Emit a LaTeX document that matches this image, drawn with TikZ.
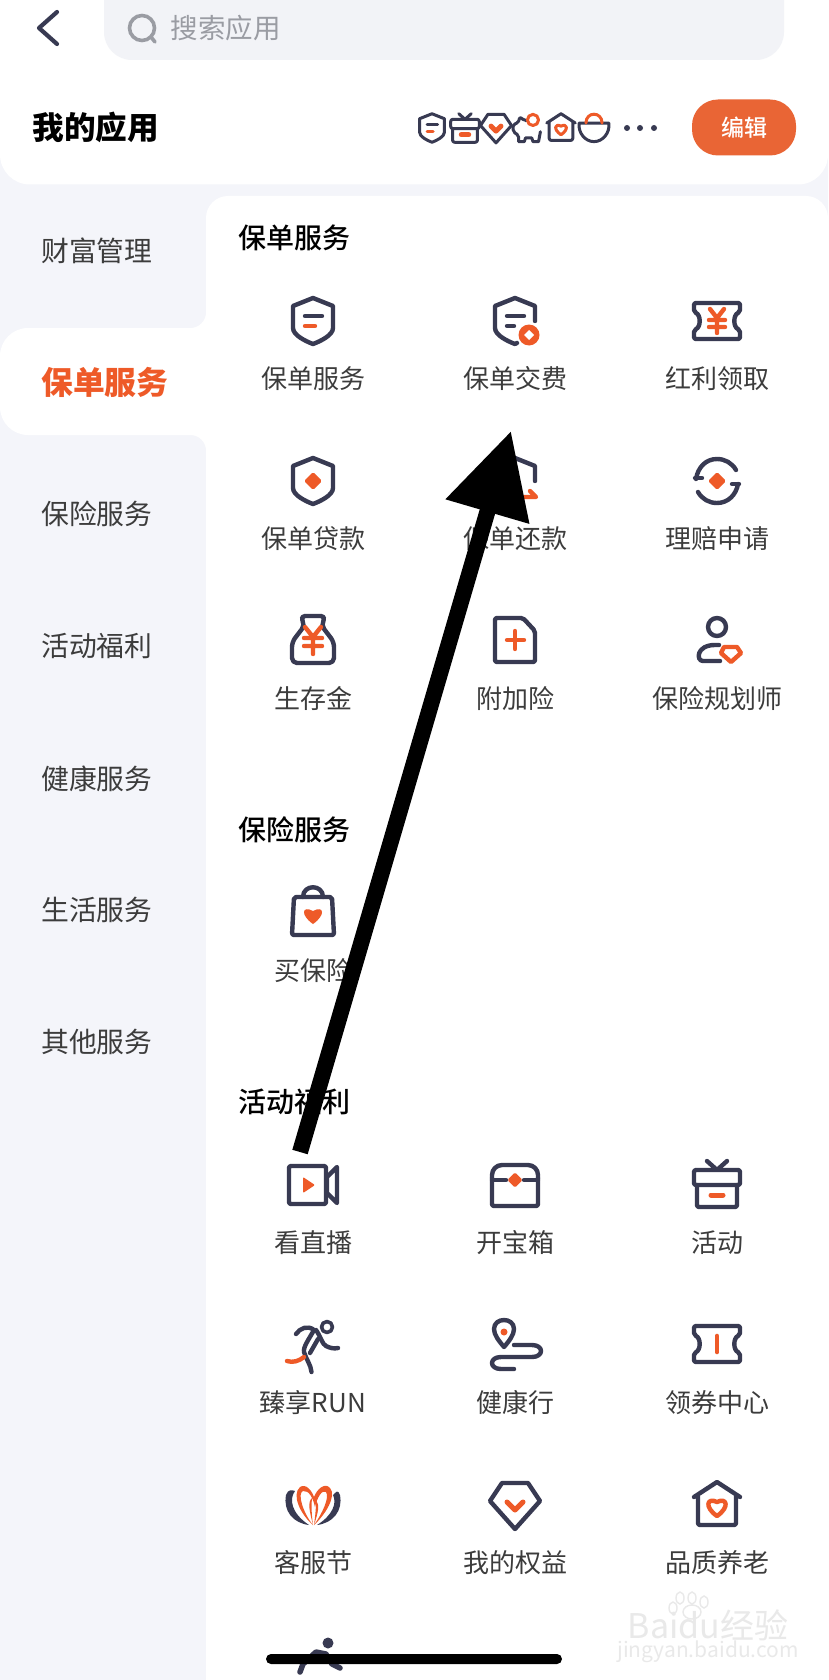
\documentclass[tikz,border=0pt]{standalone}
\usepackage{fontspec}
\setmainfont{Noto Sans CJK SC}
\newfontfamily\mediumfont{Noto Sans CJK SC Medium}
\usetikzlibrary{arrows.meta}
\definecolor{ink}{HTML}{383A52}
\definecolor{accent}{HTML}{EE5A28}
\definecolor{btn}{HTML}{E96535}
\definecolor{panel}{HTML}{F4F5FA}
\definecolor{barfill}{HTML}{F2F3F7}
\definecolor{graytext}{HTML}{9A9CA3}
\definecolor{labeltext}{HTML}{3C3C3C}
\definecolor{wmark}{HTML}{E9E9E9}
\tikzset{
  iconline/.style={draw=ink,line width=4.4pt,line cap=round,line join=round},
  accentline/.style={draw=accent,line width=4.4pt,line cap=round,line join=round},
  applabel/.style={inner sep=0pt,yshift=-1.3pt,text=labeltext,font=\fontsize{26}{30}\selectfont},
  headlabel/.style={inner sep=0pt,anchor=west,text=black,font=\fontsize{28}{32}\selectfont\mediumfont},
  sidelabel/.style={inner sep=0pt,yshift=-1pt,anchor=west,text=labeltext,font=\fontsize{27.8}{32}\selectfont},
}
\newcommand{\accentyen}{
  \draw[accentline] (-8,-13) -- (0,-3) -- (8,-13) (0,-3) -- (0,14) (-9,-2) -- (9,-2) (-9,6) -- (9,6);
}
\newcommand{\accentdiamond}{
  \fill[accent,rounded corners=1.5pt] (-9,0) -- (0,-9) -- (9,0) -- (0,9) -- cycle;
}
\newcommand{\accentheart}{
  \fill[accent] (0,9) .. controls (-13,0) and (-11,-10) .. (0,-4) .. controls (11,-10) and (13,0) .. (0,9) -- cycle;
}
\newcommand{\iconshield}{
  \draw[iconline] (0,-23) -- (20,-15) -- (20,7) .. controls (20,14) and (8,20) .. (0,23) .. controls (-8,20) and (-20,14) .. (-20,7) -- (-20,-15) -- cycle;
}
\newcommand{\iconshieldbars}{
  \iconshield
  \draw[iconline] (-8,-5) -- (9,-5);
  \draw[accentline] (-8,5) -- (2,5);
}
\newcommand{\iconshieldopen}{
  \draw[iconline] (2,22) -- (0,23) .. controls (-8,20) and (-20,14) .. (-20,7) -- (-20,-15) -- (0,-23) -- (20,-15) -- (20,0);
}
\newcommand{\iconpay}{
  \iconshieldopen
  \draw[iconline] (-8,-5) -- (9,-5) (-8,5) -- (-1,5);
  \fill[accent] (14,14) circle (10.5pt);
  \fill[white] (9,14) -- (14,9) -- (19,14) -- (14,19) -- cycle;
}
\newcommand{\iconrepay}{
  \iconshieldopen
  \draw[accentline] (9,16) -- (21,16) -- (15,10);
}
\newcommand{\iconticket}{
  \draw[iconline,rounded corners=2pt] (-23,-18) -- (23,-18) -- (23,-9) .. controls (16,-6) and (16,6) .. (23,9) -- (23,18) -- (-23,18) -- (-23,9) .. controls (-16,6) and (-16,-6) .. (-23,-9) -- cycle;
}
\newcommand{\iconyenticket}{
  \iconticket
  \draw[accentline] (-7,-12) -- (0,-3) -- (7,-12) (0,-3) -- (0,12) (-8,-1) -- (8,-1) (-8,6) -- (8,6);
}
\newcommand{\iconclaim}{
  \draw[iconline] (-21,-2) .. controls (-19,-14) and (-11,-22) .. (0,-22) .. controls (8,-22) and (15,-18) .. (19,-11);
  \draw[iconline] (21,3) .. controls (19,14) and (11,22) .. (0,22) .. controls (-8,22) and (-15,18) .. (-19,11);
  \draw[iconline] (-22,-3) -- (-15,-3) (22,3) -- (15,3);
  \accentdiamond
}
\newcommand{\iconmoneybag}{
  \draw[iconline,rounded corners=5pt] (-8,-15) -- (-13,-24) -- (13,-24) -- (8,-15) -- (21,2) -- (21,23) -- (-21,23) -- (-21,2) -- cycle;
  \accentyen
}
\newcommand{\icondoc}{
  \draw[iconline,rounded corners=2pt] (-20,-22) -- (8,-22) -- (20,-9) -- (20,22) -- (-20,22) -- cycle;
  \draw[accentline] (-8,0) -- (9,0) (0,-9) -- (0,9);
}
\newcommand{\iconplanner}{
  \draw[iconline] (0,-13) circle (9pt);
  \draw[iconline] (3,21) -- (-14,21) .. controls (-21,21) and (-21,5) .. (-2,5) -- (2,5);
  \draw[accentline] (7,7) -- (20,7) -- (24,13) -- (14,22) -- (4,13) -- cycle;
}
\newcommand{\iconbag}{
  \draw[iconline,rounded corners=2pt] (-19,-16) -- (19,-16) -- (21,22) -- (-21,22) -- cycle;
  \draw[iconline] (-10,-16) .. controls (-10,-29) and (10,-29) .. (10,-16);
  \begin{scope}[shift={(0,2)}]
    \accentheart
  \end{scope}
}
\newcommand{\iconvideo}{
  \draw[iconline,rounded corners=2pt] (-24,-19) rectangle (13,19);
  \draw[iconline] (24,-18) -- (24,18) -- (14,8) -- (14,-8) -- cycle;
  \fill[accent,rounded corners=1pt] (-10,-8) -- (2,0) -- (-10,8) -- cycle;
}
\newcommand{\iconchest}{
  \draw[iconline,rounded corners=10pt] (-23,-7) -- (-23,-20) -- (23,-20) -- (23,-7);
  \draw[iconline,rounded corners=2pt] (-23,-7) -- (-23,21) -- (23,21) -- (23,-7);
  \draw[iconline] (-23,-5) -- (-9,-5) (9,-5) -- (23,-5);
  \begin{scope}[shift={(0,-5)},scale=.85]
    \accentdiamond
  \end{scope}
}
\newcommand{\icongift}{
  \draw[iconline,rounded corners=2pt] (-23,-14) rectangle (23,1);
  \draw[iconline,rounded corners=2pt] (-20,1) -- (-20,23) -- (20,23) -- (20,1);
  \draw[iconline] (-10,-23) -- (0,-14) -- (10,-23);
  \draw[accentline,line width=5pt] (-6,11) -- (6,11);
}
\newcommand{\iconrunner}{
  \draw[iconline,line width=3.6pt] (14,-18) circle (5.5pt);
  \draw[iconline] (-17,-11) .. controls (-13,-17) and (-5,-20) .. (1,-15) .. controls (-4,-6) and (-10,2) .. (-9,7) .. controls (-7,14) and (-2,20) .. (-1.5,27);
  \draw[iconline] (3,-15) .. controls (8,-8) and (9,-1) .. (13,1) .. controls (17,3) and (21,4) .. (25,3);
  \draw[iconline] (5,-6) -- (-3,8);
  \draw[accentline] (-26,16) .. controls (-20,18) and (-14,16) .. (-9,12);
}
\newcommand{\iconroute}{
  \draw[iconline] (-11,3) .. controls (-16,-3) and (-21,-9) .. (-21,-15) .. controls (-21,-27) and (-1,-27) .. (-1,-15) .. controls (-1,-9) and (-6,-3) .. (-11,3) -- cycle;
  \fill[accent] (-11,-12) circle (3.5pt);
  \draw[iconline] (-1,1) -- (17,1) .. controls (29,1) and (29,13) .. (17,13) -- (-14,13) .. controls (-26,13) and (-26,25) .. (-14,25) -- (-1,25);
}
\newcommand{\iconcoupon}{
  \iconticket
  \draw[accentline,line width=4.6pt] (0,-8) -- (0,8);
}
\newcommand{\iconlotus}{
  \fill[ink] (-4,20) .. controls (-20,18) and (-30,6) .. (-27,-10) .. controls (-25,-16) and (-21,-15) .. (-18,-14) .. controls (-24,-6) and (-22,8) .. (-4,20) -- cycle;
  \fill[ink] (4,20) .. controls (20,18) and (30,6) .. (27,-10) .. controls (25,-16) and (23,-13) .. (20,-10) .. controls (24,-2) and (20,10) .. (4,20) -- cycle;
  \fill[accent] (0,20) .. controls (-12,10) and (-22,-10) .. (-13,-18) .. controls (-7,-22) and (-1,-14) .. (1,-8) .. controls (4,-16) and (12,-23) .. (17,-17) .. controls (24,-9) and (12,10) .. (1,20) .. controls (9,9) and (17,-8) .. (13,-13) .. controls (9,-16) and (4,-7) .. (2,2) .. controls (0,-7) and (-4,-15) .. (-10,-14) .. controls (-16,-12) and (-10,8) .. (0,20) -- cycle;
  \fill[accent] (0,20) .. controls (-3,8) and (-6,-3) .. (-1,-7) .. controls (-2,3) and (-1,12) .. (0,20) -- cycle;
  \fill[accent] (1,20) .. controls (5,8) and (7,0) .. (3,-5) .. controls (3,6) and (2,12) .. (1,20) -- cycle;
}
\newcommand{\icongem}{
  \draw[iconline] (-13,-22) -- (13,-22) -- (25,-4) -- (0,24) -- (-25,-4) -- cycle;
  \draw[accentline,line width=5pt] (-8,-3) -- (0,5) -- (8,-3);
}
\newcommand{\iconhouse}{
  \draw[iconline] (-23,-8) -- (0,-23) -- (23,-8);
  \draw[iconline,rounded corners=2pt] (-19,-9) -- (-19,20) -- (19,20) -- (19,-9);
  \begin{scope}[shift={(0,2)}]
    \draw[accentline] (0,9) .. controls (-13,0) and (-10,-10) .. (0,-5) .. controls (10,-10) and (13,0) .. (0,9) -- cycle;
  \end{scope}
}
\newcommand{\iconpig}{
  \draw[iconline,rounded corners=2pt] (-15,22) -- (-15,12) -- (-24,6) -- (-24,-6) -- (-16,-8) -- (-13,-18) -- (-6,-12) -- (-4,-12);
  \draw[iconline] (-15,22) -- (-6,22) -- (-4,16) -- (6,16) -- (8,22) -- (17,22) -- (20,6);
  \draw[accentline] (8,-13) circle (9pt);
}
\newcommand{\iconingot}{
  \draw[iconline] (-24,-8) -- (24,-8) .. controls (26,8) and (14,22) .. (0,22) .. controls (-14,22) and (-26,8) .. (-24,-8) -- cycle;
  \draw[accentline] (-13,-8) .. controls (-13,-27) and (13,-27) .. (13,-8);
}
\newcommand{\placeicon}[3]{
  \begin{scope}[shift={(#1,#2)}]
    #3
  \end{scope}
}
\newcommand{\placesmall}[3]{
  \begin{scope}[shift={(#1,#2)},scale=.62,
      iconline/.append style={line width=3pt},accentline/.append style={line width=3pt}]
    #3
  \end{scope}
}
\begin{document}
\begin{tikzpicture}[x=1pt,y=-1pt]
      \clip (0,0) rectangle (828,1680);
      \fill[panel] (0,0) rectangle (828,1680);
      \fill[white] (180,300) rectangle (206,460);
      \fill[panel,rounded corners=16pt] (120,150) rectangle (206,328);
      \fill[panel,rounded corners=16pt] (120,435) rectangle (206,1760);
      \fill[white,rounded corners=28pt] (0,328) rectangle (240,435);
      \fill[white,rounded corners=22pt] (206,196) rectangle (828,1740);
      \fill[white,rounded corners=30pt] (0,-60) rectangle (828,184.5);
      \fill[barfill,rounded corners=28pt] (104,-40) rectangle (784,60);
      \draw[ink,line width=4.2pt,line cap=round,line join=round] (57,12) -- (39,28) -- (57,44);
      \draw[graytext,line width=3.6pt] (142,28) circle (12.5pt);
      \draw[graytext,line width=3.6pt,line cap=round] (151,37) -- (155,42);
      \node[inner sep=0pt,anchor=west,text=graytext,font=\fontsize{27.5}{32}\selectfont] (search) at (170.5,28) {搜索应用};
      \node[inner sep=0pt,anchor=west,text=black,font=\fontsize{31.6}{36}\selectfont\bfseries] (myapps) at (32.5,127.5) {我的应用};
      \placesmall{432}{128}{\iconshieldbars}
      \placesmall{465}{128}{\icongift}
      \placesmall{496}{128}{\icongem}
      \placesmall{528}{128}{\iconpig}
      \placesmall{561}{128}{\iconhouse}
      \placesmall{594}{128}{\iconingot}
      \fill[ink] (627,128) circle (3pt) (640,128) circle (3pt) (654,128) circle (3pt);
      \node[fill=btn,text=white,rounded corners=26pt,minimum width=104pt,minimum height=56pt,inner sep=0pt,font=\fontsize{23}{27}\selectfont\mediumfont] (edit) at (744,127.5) {编辑};
      \node[sidelabel] (s0) at (41,249.5) {财富管理};
      \node[inner sep=0pt,yshift=-1pt,anchor=west,text=accent,font=\fontsize{31.8}{36}\selectfont\bfseries] (s1) at (41,381) {保单服务};
      \node[sidelabel] (s2) at (41,513) {保险服务};
      \node[sidelabel] (s3) at (41,645) {活动福利};
      \node[sidelabel] (s4) at (41,777.5) {健康服务};
      \node[sidelabel] (s5) at (41,909) {生活服务};
      \node[sidelabel] (s6) at (41,1041) {其他服务};
      \node[headlabel] (h0) at (238,238) {保单服务};
      \node[headlabel] (h1) at (238,830) {保险服务};
      \node[headlabel] (h2) at (238,1102) {活动福利};
      \placeicon{313}{321}{\iconshieldbars}
      \placeicon{515}{321}{\iconpay}
      \placeicon{717}{321}{\iconyenticket}
      \node[applabel] (a0) at (313,377) {保单服务};
      \node[applabel] (a1) at (515,377) {保单交费};
      \node[applabel] (a2) at (717,377) {红利领取};
      \placeicon{313}{481}{\iconshield\accentdiamond}
      \placeicon{515}{481}{\iconrepay}
      \placeicon{717}{481}{\iconclaim}
      \node[applabel] (a3) at (313,537) {保单贷款};
      \node[applabel] (a4) at (515,537) {保单还款};
      \node[applabel] (a5) at (717,537) {理赔申请};
      \placeicon{313}{640}{\iconmoneybag}
      \placeicon{515}{640}{\icondoc}
      \placeicon{717}{640}{\iconplanner}
      \node[applabel] (a6) at (313,697) {生存金};
      \node[applabel] (a7) at (515,697) {附加险};
      \node[applabel] (a8) at (717,697) {保险规划师};
      \placeicon{313}{913}{\iconbag}
      \node[applabel] (b0) at (313,969) {买保险};
      \placeicon{313}{1185}{\iconvideo}
      \placeicon{515}{1185}{\iconchest}
      \placeicon{717}{1184}{\icongift}
      \node[applabel] (c0) at (313,1241) {看直播};
      \node[applabel] (c1) at (515,1241) {开宝箱};
      \node[applabel] (c2) at (717,1241) {活动};
      \placeicon{313}{1345}{\iconrunner}
      \placeicon{515}{1344}{\iconroute}
      \placeicon{717}{1344}{\iconcoupon}
      \node[applabel] (c3) at (313,1401) {臻享RUN};
      \node[applabel] (c4) at (515,1401) {健康行};
      \node[applabel] (c5) at (717,1401) {领券中心};
      \placeicon{313}{1505}{\iconlotus}
      \placeicon{515}{1505}{\icongem}
      \placeicon{717}{1505}{\iconhouse}
      \node[applabel] (c6) at (313,1561) {客服节};
      \node[applabel] (c7) at (515,1561) {我的权益};
      \node[applabel] (c8) at (717,1561) {品质养老};
      \fill[ink] (328,1643) circle (5.5pt);
      \draw[iconline,line width=5.5pt] (300,1672) -- (303,1664) -- (316,1652) -- (326,1654) -- (332,1664) -- (340,1668);
      \draw[wmark,line width=1.4pt] (692,1612) ellipse (9pt and 7pt) (680,1598) ellipse (4pt and 6pt) (692,1598) ellipse (4pt and 6pt) (704,1602) ellipse (4pt and 6pt) (673,1608) ellipse (4pt and 6pt);
      \node[inner sep=0pt,text=wmark,font=\fontsize{34}{38}\selectfont] (wm0) at (708,1625) {Baidu经验};
      \node[inner sep=0pt,text=wmark,font=\fontsize{21}{24}\selectfont] (wm1) at (708,1652) {jingyan.baidu.com};
      \fill[black,rounded corners=5pt] (266,1654) rectangle (562,1664);
      \coordinate (arrowtail) at (300,1152);
      \coordinate (arrowtip) at (511,431);
      \draw[black,line width=16pt,-{Triangle[length=84pt,width=83pt]}] (arrowtail) -- (arrowtip);
\end{tikzpicture}
\end{document}
